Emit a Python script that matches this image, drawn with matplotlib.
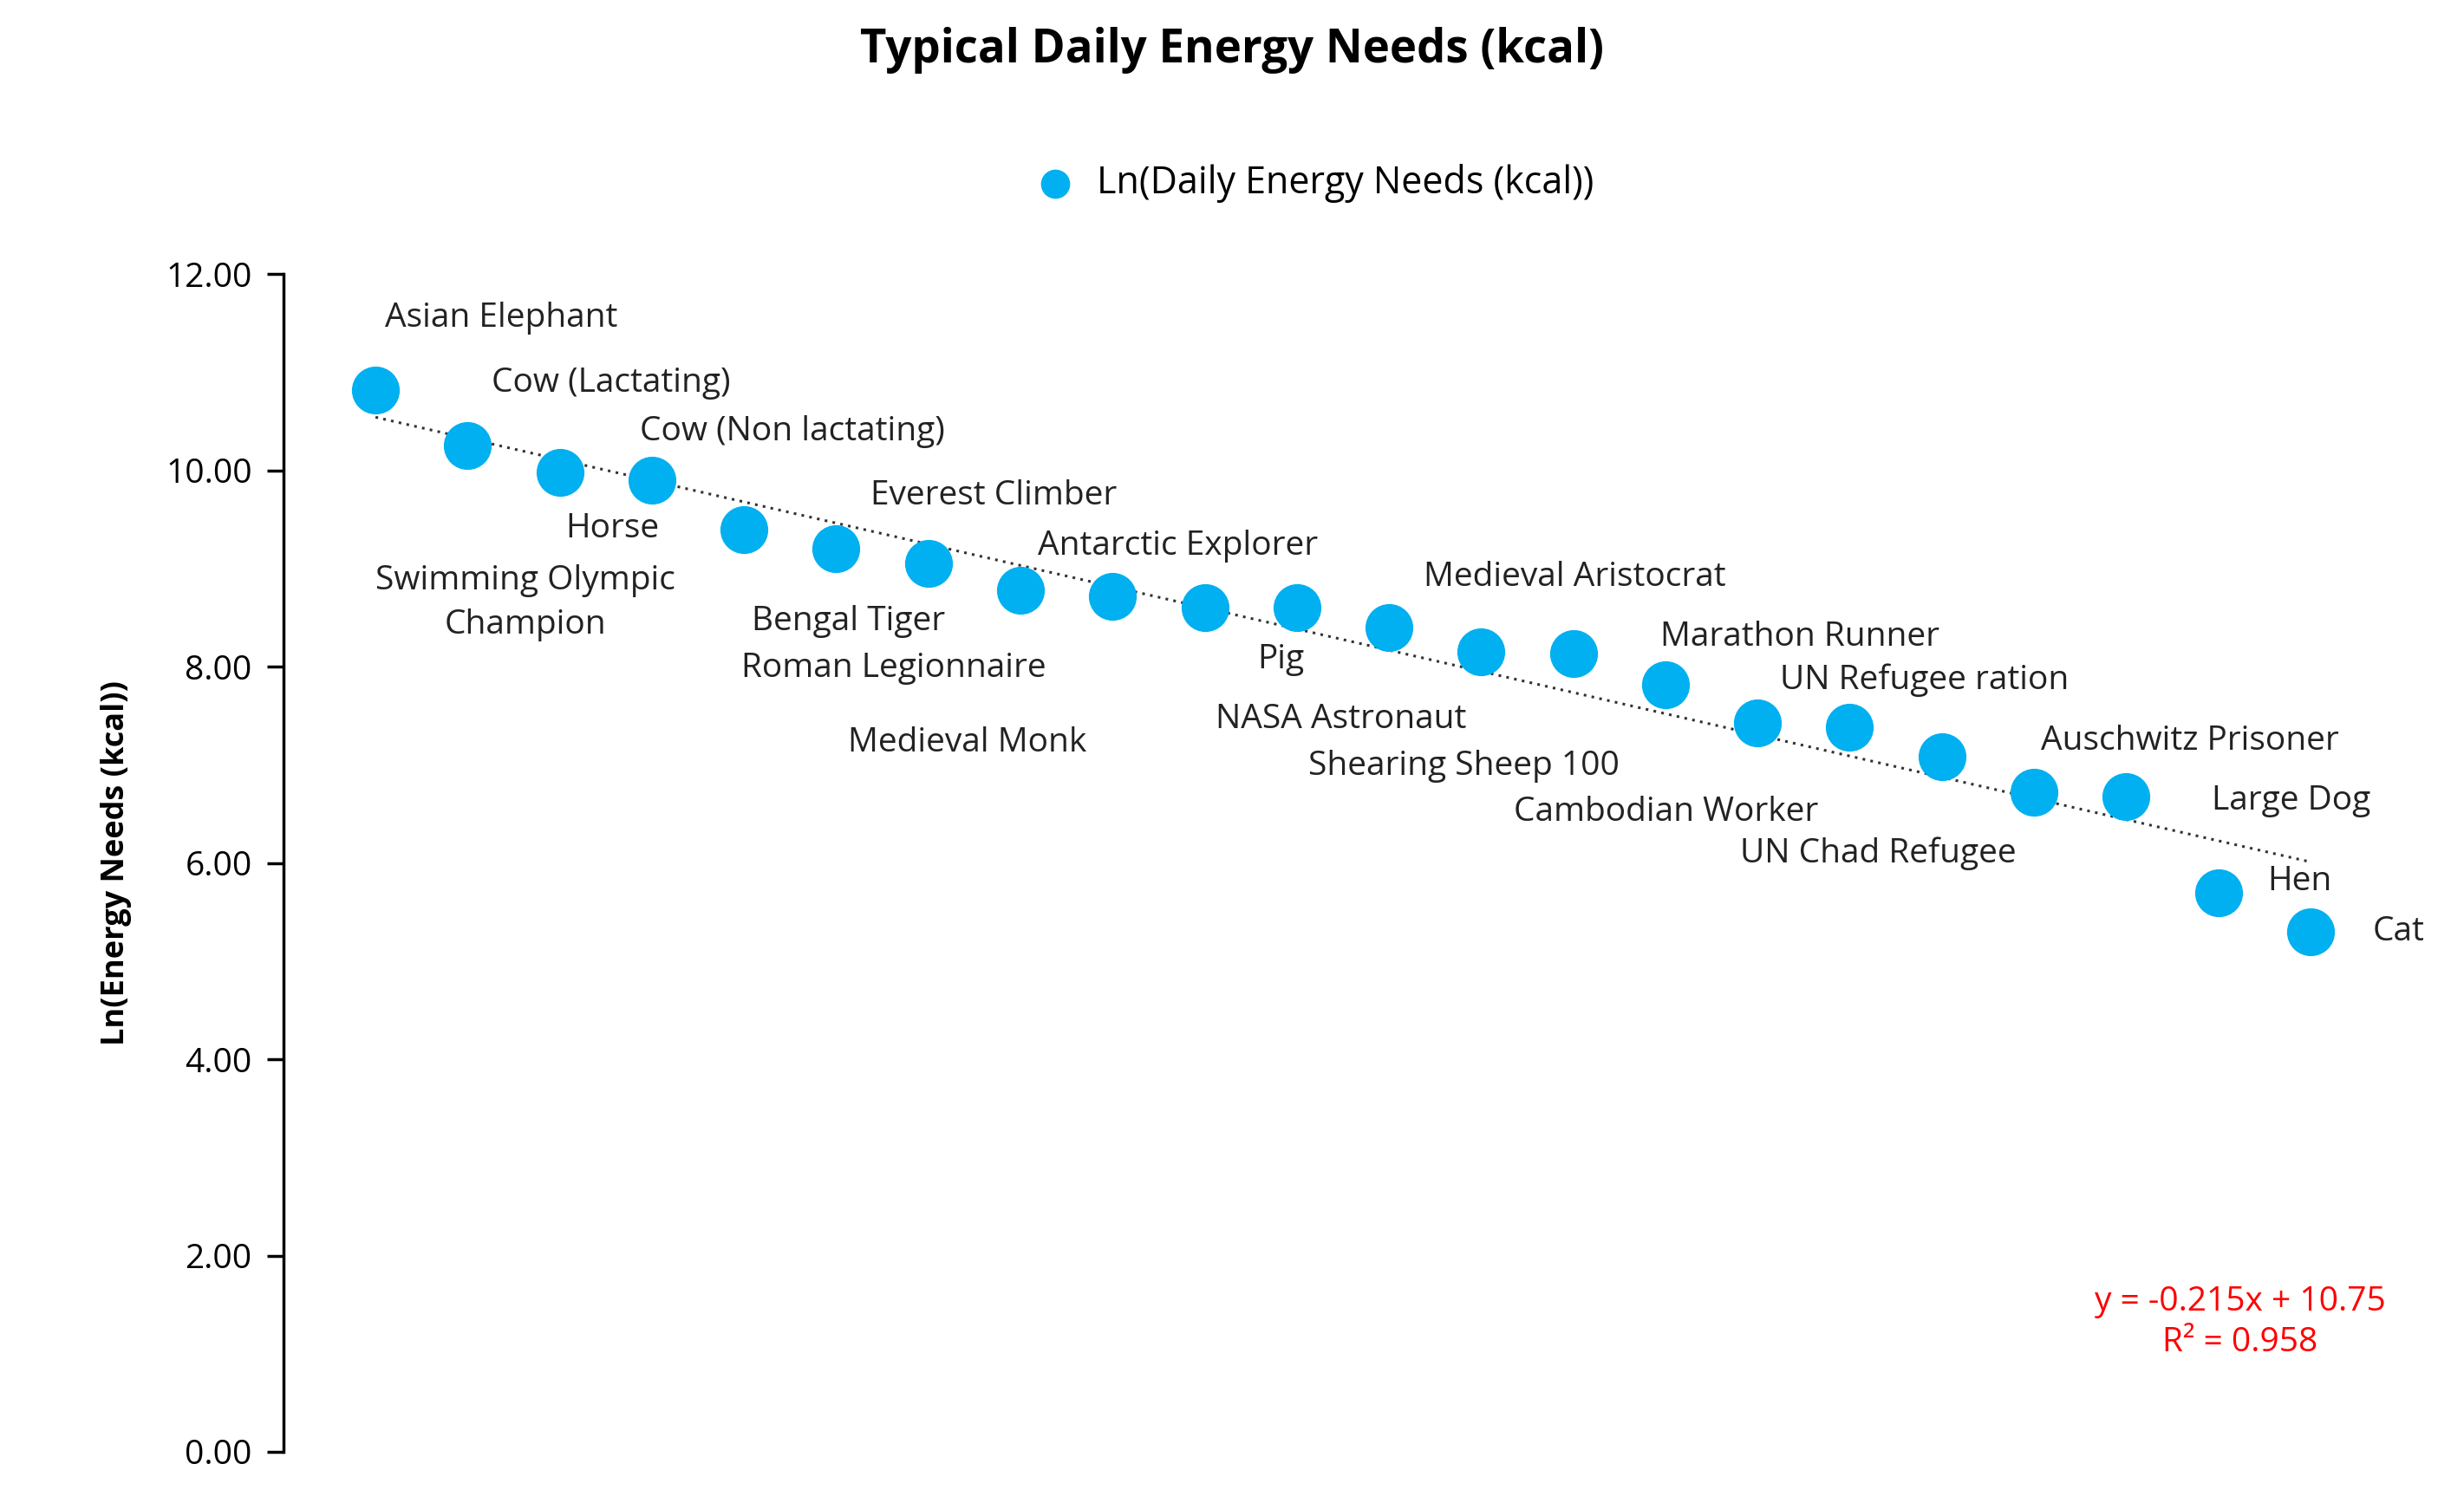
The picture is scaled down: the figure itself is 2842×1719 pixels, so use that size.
import matplotlib
matplotlib.use("Agg")
import matplotlib.pyplot as plt
import numpy as np

labels = ["Asian Elephant","Cow (Lactating)","Cow (Non lactating)","Horse",
          "Swimming Olympic\nChampion","Everest Climber","Bengal Tiger","Antarctic Explorer",
          "Roman Legionnaire","Medieval Monk","Pig","Medieval Aristocrat","NASA Astronaut",
          "Marathon Runner","Shearing Sheep 100","UN Refugee ration","Cambodian Worker",
          "Auschwitz Prisoner","UN Chad Refugee","Large Dog","Hen","Cat"]
values = [10.82,10.25,9.98,9.90,9.40,9.20,9.05,8.78,8.72,8.60,8.60,8.40,8.15,8.13,
          7.82,7.43,7.38,7.08,6.72,6.68,5.70,5.30]
# label offsets (display px at reference scale)
offs = [(80,-46),(91,-40),(148,-26),(-25,31),(-139,47),(100,-34),(-51,37),(100,-28),
        (-139,46),(-151,86),(-10,33),(118,-32),(-89,43),(144,-11),(-128,52),(106,-27),
        (-117,54),(158,-10),(-99,39),(105,3),(52,-7),(56,0)]

plt.rcParams['font.family'] = ['Open Sans', 'DejaVu Sans']
fig = plt.figure(figsize=(28.42, 17.19), dpi=100)
ax = fig.add_axes([0.115, 0.0256, 0.875, 0.7904])
x = np.arange(1, len(values) + 1)
ax.scatter(x, values, s=1500, color='#00B0F0', zorder=3, label='Ln(Daily Energy Needs (kcal))')
m, b = np.polyfit(x, values, 1)
ax.plot(x, m * x + b, color='#333333', linestyle=(0, (1, 2)), lw=2.2, zorder=2)
k = 1.813
for xi, yi, lab, (dx, dy) in zip(x, values, labels, offs):
    ax.annotate(lab, (xi, yi), xytext=(dx * k, -dy * k), textcoords='offset pixels',
                ha='center', va='center', fontsize=28, color='#222222', linespacing=1.45)
ax.set_xlim(0, 23.4)
ax.set_ylim(0, 12)
ax.set_yticks(np.arange(0, 12.01, 2))
ax.set_yticklabels([f"{v:.2f}" for v in np.arange(0, 12.01, 2)], fontsize=28)
ax.set_xticks([])
for s in ['top', 'right', 'bottom']:
    ax.spines[s].set_visible(False)
ax.spines['left'].set_linewidth(2.5)
ax.tick_params(axis='y', length=14, width=2.5, pad=12)
ax.set_ylabel("Ln(Energy Needs (kcal))", fontsize=26, fontweight='bold', labelpad=28)
ax.text(0.975, 0.11, "y = -0.215x + 10.75\nR² = 0.958", transform=ax.transAxes,
        color='red', fontsize=28, ha='right', va='center', multialignment='center', linespacing=1.3)
fig.suptitle("Typical Daily Energy Needs (kcal)", fontsize=38, fontweight='bold', y=0.982)
fig.legend(loc='center', bbox_to_anchor=(0.53, 0.877), frameon=False, fontsize=31,
           handletextpad=0.1, markerscale=0.6)
fig.savefig("out.png")
